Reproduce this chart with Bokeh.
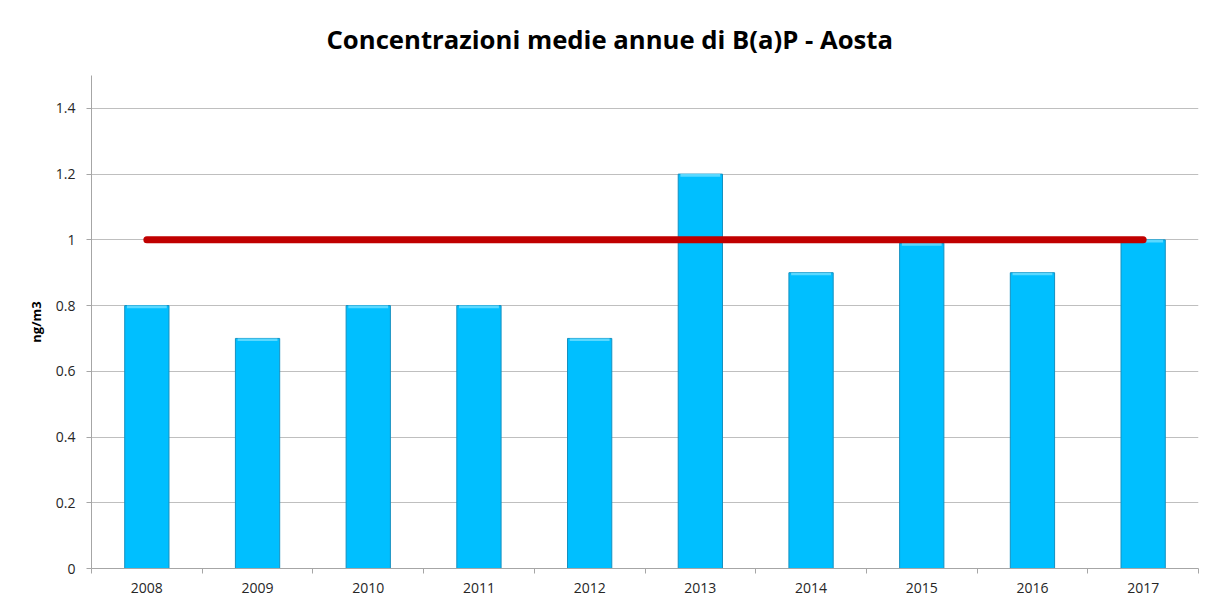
from bokeh.plotting import figure
from bokeh.models import FixedTicker, Range1d, ColumnDataSource
from bokeh.embed import file_html
from bokeh.resources import INLINE

years = ["2008", "2009", "2010", "2011", "2012", "2013", "2014", "2015", "2016", "2017"]
bap = [0.8, 0.7, 0.8, 0.8, 0.7, 1.2, 0.9, 0.99, 0.9, 1.0]
limit = [1.0] * len(years)
y_ticks = [0, 0.2, 0.4, 0.6, 0.8, 1.0, 1.2, 1.4]

xpos = [i + 0.5 for i in range(len(years))]

p = figure(width=1200, height=600, output_backend="svg", toolbar_location=None,
           x_range=Range1d(0, len(years)), y_range=Range1d(0, 1.5),
           min_border_left=91, min_border_right=2, min_border_top=75, min_border_bottom=32)
p.title.text = "Concentrazioni medie annue di B(a)P - Aosta"
p.title.text_font = "Open Sans"
p.title.text_font_size = "25.7px"
p.title.text_font_style = "bold"
p.title.text_color = "#000000"
p.title.align = "left"
p.title.offset = 235
p.title.standoff = 37

src = ColumnDataSource(dict(x=xpos, top=bap, year=years, lim=limit,
                            hl=[v - 0.008 for v in bap]))
p.vbar(x="x", top="top", width=0.4, source=src, fill_color="#00BFFF",
       line_color="#1590C0", line_width=1)
p.vbar(x="x", top="top", bottom="hl", width=0.36, source=src, fill_color="#5AD8FF",
       line_color=None)
p.line(x="x", y="lim", source=src, line_color="#C00000", line_width=7, line_cap="round")

p.outline_line_color = None
p.background_fill_color = "white"
p.border_fill_color = "white"

p.xgrid.grid_line_color = None
p.ygrid.grid_line_color = "#BFBFBF"
p.ygrid.ticker = FixedTicker(ticks=y_ticks)

xa = p.xaxis[0]
xa.ticker = FixedTicker(ticks=xpos, minor_ticks=list(range(len(years) + 1)))
xa.major_label_overrides = {x: y for x, y in zip(xpos, years)}
xa.major_tick_out = 0
xa.major_tick_in = 0
xa.minor_tick_out = 5
xa.minor_tick_in = 0
xa.minor_tick_line_color = "#A6A6A6"
xa.axis_line_color = "#A6A6A6"
xa.major_label_text_font = "Open Sans"
xa.major_label_text_font_size = "14px"
xa.major_label_text_color = "#262626"
xa.major_label_standoff = 9

ya = p.yaxis[0]
ya.ticker = FixedTicker(ticks=y_ticks)
ya.major_label_overrides = {0: "0", 1: "1"}
ya.major_tick_out = 5
ya.major_tick_in = 0
ya.minor_tick_out = 0
ya.minor_tick_in = 0
ya.major_tick_line_color = "#A6A6A6"
ya.axis_line_color = "#A6A6A6"
ya.major_label_text_font = "Open Sans"
ya.major_label_text_font_size = "14px"
ya.major_label_text_color = "#262626"
ya.major_label_standoff = 11
ya.axis_label = "ng/m3"
ya.axis_label_text_font = "Open Sans"
ya.axis_label_text_font_size = "13px"
ya.axis_label_text_font_style = "bold"
ya.axis_label_text_color = "#000000"
ya.axis_label_standoff = 8

open("out.html", "w").write(file_html(p, INLINE))
